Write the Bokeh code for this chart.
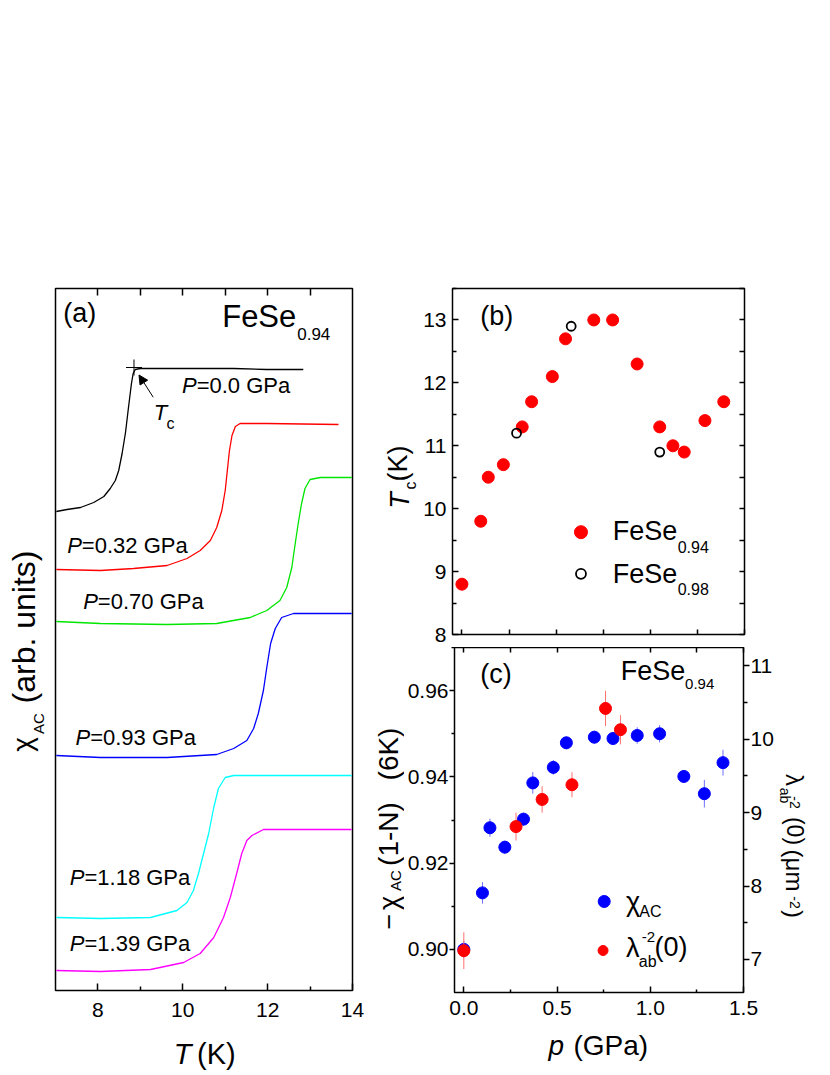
from math import pi
from bokeh.plotting import figure
from bokeh.models import Range1d, FixedTicker, LinearAxis, Label, Arrow, NormalHead, PrintfTickFormatter
from bokeh.layouts import row, column
from bokeh.embed import file_html
from bokeh.resources import INLINE

FONT = "Liberation Sans"

# ---------------- data: panel (a)  chi_AC(T) curves (arb. units, offset) ----------------
pressures_a = ["0.0", "0.32", "0.70", "0.93", "1.18", "1.39"]
colors_a = ["black", "#ff0000", "#00e600", "#0000ff", "#00ffff", "#ff00ff"]

T_000 = [7.02, 7.27, 7.59, 7.90, 8.14, 8.29, 8.41, 8.49, 8.57, 8.65, 8.72, 8.79, 8.83, 8.88, 9.00, 9.63, 10.41, 11.20, 11.98, 12.84]
chi_000 = [4.79, 4.81, 4.83, 4.88, 4.94, 5.02, 5.10, 5.20, 5.37, 5.58, 5.83, 6.07, 6.17, 6.21, 6.22, 6.22, 6.22, 6.22, 6.21, 6.21]

T_032 = [7.02, 8.06, 8.84, 9.63, 10.10, 10.41, 10.65, 10.80, 10.92, 11.00, 11.05, 11.10, 11.16, 11.24, 11.35, 11.98, 13.67]
chi_032 = [4.21, 4.20, 4.22, 4.25, 4.32, 4.40, 4.50, 4.63, 4.80, 5.00, 5.20, 5.40, 5.55, 5.64, 5.67, 5.67, 5.66]

T_070 = [7.02, 8.06, 9.63, 10.80, 11.59, 11.98, 12.29, 12.45, 12.57, 12.65, 12.72, 12.80, 12.88, 13.00, 13.24, 13.98]
chi_070 = [3.69, 3.67, 3.66, 3.67, 3.73, 3.80, 3.90, 4.03, 4.23, 4.47, 4.67, 4.87, 5.02, 5.11, 5.13, 5.13]

T_093 = [7.02, 8.06, 9.63, 10.80, 11.20, 11.51, 11.67, 11.78, 11.90, 11.98, 12.07, 12.18, 12.33, 12.61, 13.98]
chi_093 = [2.35, 2.33, 2.33, 2.36, 2.42, 2.50, 2.62, 2.77, 3.00, 3.23, 3.47, 3.62, 3.73, 3.77, 3.77]

T_118 = [7.02, 8.06, 9.24, 9.86, 10.10, 10.25, 10.37, 10.49, 10.61, 10.73, 10.84, 11.00, 11.20, 13.98]
chi_118 = [0.73, 0.72, 0.73, 0.80, 0.88, 1.00, 1.17, 1.37, 1.57, 1.83, 2.02, 2.13, 2.15, 2.15]

T_139 = [7.02, 8.06, 9.24, 10.02, 10.41, 10.73, 10.96, 11.12, 11.27, 11.39, 11.51, 11.63, 11.90, 13.98]
chi_139 = [0.20, 0.19, 0.21, 0.28, 0.37, 0.53, 0.73, 0.93, 1.17, 1.37, 1.50, 1.55, 1.61, 1.61]

curves_T = [T_000, T_032, T_070, T_093, T_118, T_139]
curves_chi = [chi_000, chi_032, chi_070, chi_093, chi_118, chi_139]

# onset marker at P = 0
tc_mark_T = [8.85]
tc_mark_chi = [6.23]

# ---------------- data: panel (b)  Tc(p) ----------------
p_094 = [0.00, 0.10, 0.14, 0.22, 0.32, 0.37, 0.48, 0.55, 0.70, 0.80, 0.93, 1.05, 1.12, 1.18, 1.29, 1.39]
Tc_094 = [8.8, 9.8, 10.5, 10.7, 11.3, 11.7, 12.1, 12.7, 13.0, 13.0, 12.3, 11.3, 11.0, 10.9, 11.4, 11.7]
p_098 = [0.29, 0.58, 1.05]
Tc_098 = [11.2, 12.9, 10.9]

# ---------------- data: panel (c) ----------------
p_chi = [0.00, 0.10, 0.14, 0.22, 0.32, 0.37, 0.48, 0.55, 0.70, 0.80, 0.93, 1.05, 1.18, 1.29, 1.39]
chi_ac = [0.9000, 0.9131, 0.9282, 0.9237, 0.9302, 0.9386, 0.9422, 0.9479, 0.9492, 0.9489, 0.9496, 0.9500, 0.9401, 0.9361, 0.9433]
chi_err = [0.0020, 0.0025, 0.0021, 0.0015, 0.0015, 0.0025, 0.0017, 0.0015, 0.0015, 0.0015, 0.0019, 0.0020, 0.0015, 0.0032, 0.0030]
p_lam = [0.00, 0.28, 0.42, 0.58, 0.76, 0.84]
lam = [7.12, 8.81, 9.18, 9.38, 10.42, 10.13]
lam_err = [0.25, 0.19, 0.18, 0.17, 0.24, 0.20]

# ---------------- layout geometry (page pixels) ----------------
FR_A = (55, 352, 288, 990, 7.0, 14.0, 0.0, 7.02)
FR_B = (451, 744, 288, 634, -0.05, 1.5, 8.0, 13.5)
FR_C = (451, 744, 647, 992, -0.05, 1.5, 0.89, 0.97)

# approximate advance widths (em) for text centring
W = {' ': .278, '(': .333, ')': .333, '-': .333, '.': .278, '=': .584, 'A': .667, 'C': .722,
     'F': .611, 'G': .778, 'K': .667, 'N': .722, 'P': .667, 'S': .667, 'T': .611, 'a': .556,
     'b': .556, 'c': .5, 'e': .556, 'i': .222, 'm': .833, 'n': .556, 'p': .556, 'r': .333,
     's': .5, 't': .278, 'u': .556, '\u03c7': .52, '\u03bb': .5, '\u03bc': .576, '\u2212': .584}
MID = 0.35


def tw(text, size):
    return sum(W.get(ch, 0.556) for ch in text) * size


def to_data(fr, px, py):
    l, r, t, b, x0, x1, y0, y1 = fr
    return x0 + (px - l) / (r - l) * (x1 - x0), y0 + (b - py) / (b - t) * (y1 - y0)


def frac(fr, fx, fy):
    l, r, t, b, x0, x1, y0, y1 = fr
    return x0 + fx * (x1 - x0), y0 + fy * (y1 - y0)


def mk_label(x, y, text, size, style, angle):
    return Label(x=x, y=y, text=text, text_font=FONT, text_font_size=f"{size}px",
                 text_font_style=style, text_align="center", text_baseline="middle",
                 angle=angle, text_color="black")


class Host:
    def __init__(self, fig, mapper):
        self.fig = fig
        self.mapper = mapper

    def h(self, x_left, base_y, text, size, style="normal"):
        cx = x_left + tw(text, size) / 2
        cy = base_y - MID * size
        x, y = self.mapper(cx, cy)
        self.fig.add_layout(mk_label(x, y, text, size, style, 0.0))

    def ccw(self, y_center, base_x, text, size, style="normal"):
        x, y = self.mapper(base_x - MID * size, y_center)
        self.fig.add_layout(mk_label(x, y, text, size, style, pi / 2))

    def cw(self, y_center, base_x, text, size, style="normal"):
        x, y = self.mapper(base_x + MID * size, y_center)
        self.fig.add_layout(mk_label(x, y, text, size, style, -pi / 2))


def frame_host(fig, fr):
    return Host(fig, lambda px, py: to_data(fr, px, py))


def text_fig(left, top, w, h, bt=0, bb=0):
    # a strip that only carries titles; its frame is aligned with the neighbouring panel
    f_top, f_bot = top + bt, top + h - bb
    f = figure(width=w, height=h, x_range=Range1d(left, left + w), y_range=Range1d(-f_bot, -f_top),
               x_axis_type=None, y_axis_type=None, output_backend="svg",
               toolbar_location=None, title=None,
               min_border_left=0, min_border_right=0, min_border_top=bt, min_border_bottom=bb)
    f.outline_line_color = None
    f.background_fill_color = "white"
    f.border_fill_color = "white"
    return Host(f, lambda px, py: (px, -py))


def style_axis(ax, ticks, minor, tin, tout, mtin, mtout, standoff=5, fmt=None):
    ax.ticker = FixedTicker(ticks=ticks, minor_ticks=minor)
    ax.axis_line_color = None
    ax.major_tick_in = tin
    ax.major_tick_out = tout
    ax.minor_tick_in = mtin
    ax.minor_tick_out = mtout
    ax.major_tick_line_color = "black"
    ax.minor_tick_line_color = "black"
    ax.major_tick_line_width = 1.5
    ax.minor_tick_line_width = 1.5
    ax.major_label_text_font = FONT
    ax.major_label_text_font_size = "21px"
    ax.major_label_text_color = "black"
    ax.major_label_standoff = standoff
    if fmt:
        ax.formatter = PrintfTickFormatter(format=fmt)


def ticks_only(ax, positions, length):
    ax.ticker = FixedTicker(ticks=[], minor_ticks=positions)
    ax.axis_line_color = None
    ax.major_tick_in = 0
    ax.major_tick_out = 0
    ax.minor_tick_in = length
    ax.minor_tick_out = 0
    ax.minor_tick_line_color = "black"
    ax.minor_tick_line_width = 1.5
    ax.major_label_standoff = 0


def base(p):
    p.grid.visible = False
    p.outline_line_color = "black"
    p.outline_line_width = 1.5
    p.outline_line_alpha = 1.0
    p.background_fill_color = "white"
    p.border_fill_color = "white"


# ================= panel (a) =================
pa = figure(width=321, height=1030, x_range=Range1d(7, 14), y_range=Range1d(0, 7.02),
            output_backend="svg", toolbar_location=None, title=None,
            min_border_left=8, min_border_right=16, min_border_top=288, min_border_bottom=40)
base(pa)
pa.yaxis.visible = False
style_axis(pa.xaxis[0], [8, 10, 12, 14], [9, 11, 13], 7, 0, 4, 0, 12, "%d")
top_a = LinearAxis()
ticks_only(top_a, [8, 9, 10, 11, 12, 13], 7)
pa.add_layout(top_a, "above")

for Tv, cv, col in zip(curves_T, curves_chi, colors_a):
    pa.line(Tv, cv, line_color=col, line_width=1.3)

pa.scatter(tc_mark_T, tc_mark_chi, marker="cross", size=16, line_color="black", line_width=1)
xs, ys = to_data(FR_A, 152.7, 396.7)
xe, ye = to_data(FR_A, 138.5, 374.5)
pa.add_layout(Arrow(end=NormalHead(size=9, fill_color="black", line_color="black", line_width=1),
                    x_start=xs, y_start=ys, x_end=xe, y_end=ye, line_color="black", line_width=1))

ha = frame_host(pa, FR_A)
ha.h(62.7, 321.5, "(a)", 27)
ha.h(221.7, 327, "FeSe", 31)
ha.h(296.7, 339, "0.94", 17)
ha.h(153.3, 419.3, "T", 22, "italic")
ha.h(166.0, 428.3, "c", 16)

label_pos_a = [(181.5, 393), (66.7, 553), (82.7, 609), (75.0, 745), (69.3, 885), (69.3, 951)]
for pr, (lx, ly) in zip(pressures_a, label_pos_a):
    ha.h(lx, ly, "P", 22, "italic")
    ha.h(lx + tw("P", 22), ly, f"={pr} GPa", 22)

# axis titles of (a) in their own strips
fa_left = text_fig(0, 0, 47, 1030, bt=288, bb=40)
fa_left.ccw(744, 32, "\u03c7", 28)
fa_left.ccw(723, 43.0, "AC", 15)
fa_left.ccw(626.5, 35, "(arb. units)", 32)

fa_bottom = text_fig(0, 1030, 368, 43)
fa_bottom.h(173.3, 1064, "T", 29, "italic")
fa_bottom.h(196.5, 1064, "(K)", 29)

# ================= panel (b) =================
pb = figure(width=410, height=647, x_range=Range1d(-0.05, 1.5), y_range=Range1d(8, 13.5),
            output_backend="svg", toolbar_location=None, title=None,
            min_border_left=31, min_border_right=86, min_border_top=288, min_border_bottom=13)
base(pb)
ticks_only(pb.xaxis[0], [0, 0.25, 0.5, 0.75, 1.0, 1.25, 1.5], 5)
style_axis(pb.yaxis[0], [8, 9, 10, 11, 12, 13], [8.5, 9.5, 10.5, 11.5, 12.5, 13.5], 6, 0, 4, 0, 6, "%d")
right_b = LinearAxis()
ticks_only(right_b, [8, 8.5, 9, 9.5, 10, 10.5, 11, 11.5, 12, 12.5, 13, 13.5], 5)
pb.add_layout(right_b, "right")

pb.scatter(p_094, Tc_094, marker="circle", size=12, fill_color="#ff0000", line_color="#ff0000")
pb.scatter(p_098, Tc_098, marker="circle", size=9, fill_color=None, line_color="black", line_width=1.8)

# legend (b)
lx, ly = frac(FR_B, 0.440, 0.2957)
pb.scatter([lx], [ly], marker="circle", size=13, fill_color="#ff0000", line_color="#ff0000")
lx, ly = frac(FR_B, 0.440, 0.1754)
pb.scatter([lx], [ly], marker="circle", size=10, fill_color=None, line_color="black", line_width=1.8)
hb = frame_host(pb, FR_B)
hb.h(612, 540, "FeSe", 27)
hb.h(677, 551.7, "0.94", 16)
hb.h(612, 583.3, "FeSe", 27)
hb.h(677, 594.3, "0.98", 16)
hb.h(479, 324.5, "(b)", 27)

fb_left = text_fig(368, 0, 52, 647, bt=288, bb=13)
fb_left.ccw(500, 408.5, "T", 27, "italic")
fb_left.ccw(485, 415.5, "c", 16)
fb_left.ccw(463, 407, "(K)", 27)

# ================= panel (c) =================
pc = figure(width=372, height=381, x_range=Range1d(-0.05, 1.5), y_range=Range1d(0.89, 0.97),
            output_backend="svg", toolbar_location=None, title=None,
            min_border_left=47, min_border_right=32, min_border_top=0, min_border_bottom=36)
base(pc)
pc.extra_y_ranges = {"lam": Range1d(6.55, 11.25)}
style_axis(pc.xaxis[0], [0, 0.5, 1.0, 1.5], [0.25, 0.75, 1.25], 6, 0, 3, 0, 8, "%.1f")
top_c = LinearAxis()
ticks_only(top_c, [0, 0.25, 0.5, 0.75, 1.0, 1.25, 1.5], 5)
pc.add_layout(top_c, "above")
style_axis(pc.yaxis[0], [0.90, 0.92, 0.94, 0.96], [0.91, 0.93, 0.95, 0.97], 0, 5, 0, 3, 1, "%.2f")
right_c = LinearAxis(y_range_name="lam")
style_axis(right_c, [7, 8, 9, 10, 11], [7.5, 8.5, 9.5, 10.5], 0, 6, 0, 4, 1, "%d")
pc.add_layout(right_c, "right")

chi_lo = [v - e for v, e in zip(chi_ac, chi_err)]
chi_hi = [v + e for v, e in zip(chi_ac, chi_err)]
lam_lo = [v - e for v, e in zip(lam, lam_err)]
lam_hi = [v + e for v, e in zip(lam, lam_err)]
pc.segment(p_chi, chi_lo, p_chi, chi_hi, line_color="#6f6fff", line_width=1)
pc.scatter(p_chi, chi_ac, marker="circle", size=12, fill_color="#0000ff", line_color="#0000ff")
pc.segment(p_lam, lam_lo, p_lam, lam_hi, line_color="#ff7070", line_width=1, y_range_name="lam")
pc.scatter(p_lam, lam, marker="circle", size=12, fill_color="#ff0000", line_color="#ff0000", y_range_name="lam")

# legend (c)
lx, ly = frac(FR_C, 0.518, 0.2638)
pc.scatter([lx], [ly], marker="circle", size=12, fill_color="#0000ff", line_color="#0000ff")
lx, ly = frac(FR_C, 0.514, 0.1217)
pc.scatter([lx], [ly], marker="circle", size=10, fill_color="#ff0000", line_color="#ff0000")
hc = frame_host(pc, FR_C)
hc.h(625, 911, "\u03c7", 27)
hc.h(638.5, 917, "AC", 16)
hc.h(625, 956.5, "\u03bb", 27)
hc.h(638, 967, "ab", 16)
hc.h(641, 942, "-2", 15)
hc.h(654, 956, "(0)", 27)

hc.h(477.3, 683, "(c)", 27)
hc.h(620, 680, "FeSe", 27)
hc.h(685, 688.5, "0.94", 15)

fc_left = text_fig(368, 647, 36, 381, bt=0, bb=36)
fc_left.ccw(921, 397.5, "\u2212", 27)
fc_left.ccw(902.5, 397.5, "\u03c7", 27)
fc_left.ccw(880, 400.5, "AC", 15)
fc_left.ccw(833.5, 397.5, "(1-N)", 28)
fc_left.ccw(753.5, 397.5, "(6K)", 28)

fc_right = text_fig(776, 647, 54, 381, bt=0, bb=36)
fc_right.cw(779.5, 786, "\u03bb", 24)
fc_right.cw(795, 779.5, "ab", 14)
fc_right.cw(802, 790, "-2", 14)
fc_right.cw(830.5, 786, "(0)", 23)
fc_right.cw(870, 786, "(\u03bcm", 24)
fc_right.cw(902, 790, "-2", 14)
fc_right.cw(913.5, 786, ")", 24)

fc_bottom = text_fig(368, 1028, 462, 45)
fc_bottom.h(548, 1055, "p", 28, "italic")
fc_bottom.h(573, 1055, "(GPa)", 28)

left_block = column(row(fa_left.fig, pa), fa_bottom.fig)
right_block = column(row(fb_left.fig, pb), row(fc_left.fig, pc, fc_right.fig), fc_bottom.fig)
layout = row(left_block, right_block)
open("out.html", "w").write(file_html(layout, INLINE))
